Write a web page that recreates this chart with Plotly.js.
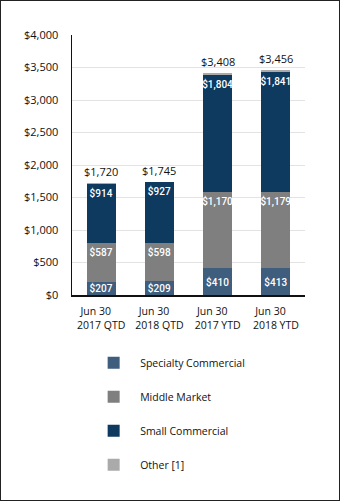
<!DOCTYPE html>
<html>
<head>
<meta charset="utf-8">
<script src="https://cdn.plot.ly/plotly-3.0.1.min.js"></script>
<style>
  html, body { margin: 0; padding: 0; background: #fff; }
  #chart { width: 340px; height: 501px; box-sizing: border-box; border: 1px solid #222; }
</style>
</head>
<body>
<div id="chart"></div>
<script>
const categories = ["Jun 30&nbsp;&nbsp;&nbsp;&nbsp;<br>2017 QTD", "Jun 30&nbsp;&nbsp;&nbsp;&nbsp;<br>2018 QTD", "Jun 30&nbsp;&nbsp;&nbsp;&nbsp;<br>2017 YTD", "Jun 30&nbsp;&nbsp;&nbsp;&nbsp;<br>2018 YTD"];
const specialty = [207, 209, 410, 413];
const middle = [587, 598, 1170, 1179];
const small = [914, 927, 1804, 1841];
const other = [12, 11, 24, 23];
const totals = [1720, 1745, 3408, 3456];

const seriesNames = ["Specialty Commercial", "Middle Market", "Small Commercial", "Other [1]"];
const seriesColors = ["#3f5d7d", "#7f7f7f", "#0e3a5f", "#aaaaaa"];
const seriesValues = [specialty, middle, small, other];
const showLabels = [true, true, true, false];
const labelAnchor = ['middle', 'end', 'end', 'end'];

const FONT = "'Open Sans', 'Liberation Sans', sans-serif";
const LABELFONT = "Roboto, 'Open Sans', sans-serif";
const xs = categories.map((c, i) => i);

const traces = seriesValues.map((vals, k) => ({
  type: 'bar',
  name: seriesNames[k],
  x: xs,
  y: vals,
  legendgroup: 'g' + k,
  marker: { color: seriesColors[k] },
  text: showLabels[k] ? vals.map(v => '$' + v.toLocaleString('en-US')) : undefined,
  textposition: showLabels[k] ? 'inside' : 'none',
  insidetextanchor: labelAnchor[k],
  textangle: 0,
  constraintext: 'none',
  textfont: { family: LABELFONT, size: 10, color: '#ffffff', weight: 500 },
  hoverinfo: 'name+y'
}));

const annotations = totals.map((t, i) => ({
  x: xs[i], y: t, xref: 'x', yref: 'y',
  text: '$' + t.toLocaleString('en-US'),
  showarrow: false, yanchor: 'bottom', yshift: 2,
  font: { family: FONT, size: 11, color: '#111' }
}));

const layout = {
  width: 338, height: 499,
  margin: { l: 71, r: 34, t: 34, b: 205 },
  barmode: 'stack',
  bargap: 0.5,
  paper_bgcolor: '#fff',
  plot_bgcolor: '#fff',
  font: { family: FONT, size: 11, color: '#111' },
  xaxis: {
    tickvals: xs, ticktext: categories,
    range: [-0.5, 3.5],
    showline: true, linecolor: '#111', linewidth: 1.5,
    showgrid: false, ticks: '', ticklabelstandoff: 6,
    tickfont: { family: FONT, size: 10.5, color: '#111' },
    fixedrange: true
  },
  yaxis: {
    range: [0, 4000], dtick: 500,
    tickprefix: '$', tickformat: ',d',
    showline: true, linecolor: '#111', linewidth: 1.5,
    gridcolor: '#e3e3e3', gridwidth: 1, zeroline: false,
    ticks: '', ticklabelstandoff: 10,
    tickfont: { family: FONT, size: 11, color: '#111' },
    fixedrange: true
  },
  showlegend: true,
  legend: {
    orientation: 'v', traceorder: 'grouped', tracegroupgap: 15,
    x: 0.065, xanchor: 'left', y: -0.205, yanchor: 'top',
    itemwidth: 43,
    font: { family: FONT, size: 10.5, color: '#111' },
    bgcolor: 'rgba(0,0,0,0)'
  },
  annotations: annotations
};

Plotly.newPlot('chart', traces, layout, { displayModeBar: false, staticPlot: true });
</script>
</body>
</html>
